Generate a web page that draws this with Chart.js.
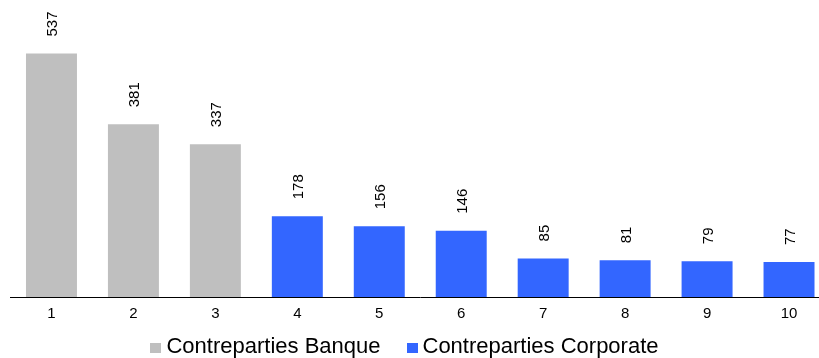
<!DOCTYPE html>
<html>
<head>
<meta charset="utf-8">
<script src="https://cdn.jsdelivr.net/npm/chart.js@4/dist/chart.umd.min.js"></script>
<style>
  html, body { margin: 0; padding: 0; background: #fff; overflow: hidden; }
  #wrap { position: relative; width: 830px; height: 358px; }
  #legend {
    position: absolute; left: 0; top: 335px; width: 809px;
    display: flex; justify-content: center;
    font-family: "Liberation Sans", Arial, sans-serif; font-size: 22px; line-height: 22px; color: #000;
  }
  #legend .item { display: flex; align-items: baseline; margin: 0 13px; white-space: nowrap; }
  #legend .box { display: inline-block; width: 11px; height: 10px; margin-right: 5px; }
</style>
</head>
<body>
<div id="wrap">
  <canvas id="chart" width="830" height="358"></canvas>
  <div id="legend"></div>
</div>
<script>
const categories = ['1', '2', '3', '4', '5', '6', '7', '8', '9', '10'];
const banqueValues = [537, 381, 337, null, null, null, null, null, null, null];
const corporateValues = [null, null, null, 178, 156, 146, 85, 81, 79, 77];

const GREY = '#bfbfbf';
const BLUE = '#3366ff';
const FONT = '"Liberation Sans", Arial, sans-serif';

// rotated value above each bar
const barValues = {
  id: 'barValues',
  afterDatasetsDraw(chart) {
    const ctx = chart.ctx;
    ctx.save();
    ctx.font = '15px ' + FONT;
    ctx.fillStyle = '#000';
    ctx.textAlign = 'left';
    ctx.textBaseline = 'middle';
    chart.data.datasets.forEach((ds, i) => {
      chart.getDatasetMeta(i).data.forEach((bar, j) => {
        const v = ds.data[j];
        if (v == null) return;
        ctx.save();
        ctx.translate(bar.x + 1.5, bar.y - 17);
        ctx.rotate(-Math.PI / 2);
        ctx.fillText(String(v), 0, 0);
        ctx.restore();
      });
    });
    ctx.restore();
  }
};

const chart = new Chart(document.getElementById('chart'), {
  type: 'bar',
  data: {
    labels: categories,
    datasets: [
      { label: 'Contreparties Banque', data: banqueValues, backgroundColor: GREY },
      { label: 'Contreparties Corporate', data: corporateValues, backgroundColor: BLUE }
    ]
  },
  options: {
    responsive: false,
    animation: false,
    layout: { padding: { left: 10.5, right: 0, top: 0, bottom: 27 } },
    datasets: {
      bar: { grouped: false, barPercentage: 0.622, categoryPercentage: 1 }
    },
    plugins: {
      legend: { display: false },
      tooltip: { enabled: false }
    },
    scales: {
      x: {
        grid: { display: false, drawTicks: false },
        border: { display: true, color: '#000', width: 1 },
        ticks: { color: '#000', padding: 8, font: { family: FONT, size: 15 } }
      },
      y: {
        display: false,
        min: 0,
        max: 655
      }
    }
  },
  plugins: [barValues]
});

// html legend from the datasets
const legendEl = document.getElementById('legend');
chart.data.datasets.forEach(ds => {
  const item = document.createElement('span');
  item.className = 'item';
  const box = document.createElement('span');
  box.className = 'box';
  box.style.background = ds.backgroundColor;
  item.appendChild(box);
  item.appendChild(document.createTextNode(ds.label));
  legendEl.appendChild(item);
});
</script>
</body>
</html>
